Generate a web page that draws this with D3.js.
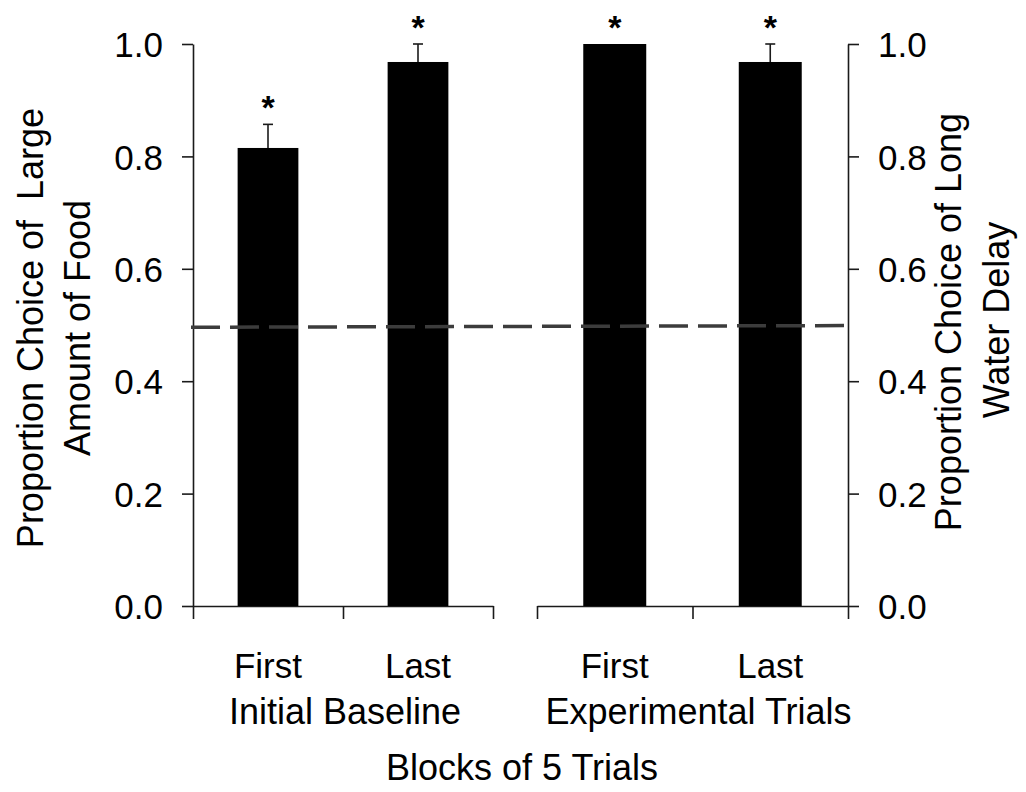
<!DOCTYPE html>
<html>
<head>
<meta charset="utf-8">
<script src="https://cdn.jsdelivr.net/npm/d3@7/dist/d3.min.js"></script>
<style>
    html, body { margin: 0; padding: 0; background: #fff; }
    svg { display: block; font-family: "Liberation Sans", Arial, sans-serif; }
    svg text { white-space: pre; }
</style>
</head>
<body>
<svg id="chart" width="1026" height="792"></svg>
<script>
// values
const groups = ["Initial Baseline", "Experimental Trials"];
const blocks = ["First", "Last"];
const foodMeans = [0.815, 0.968];      // left axis, initial baseline
const foodErrors = [0.042, 0.032];
const waterMeans = [1.0, 0.968];       // right axis, experimental trials
const waterErrors = [0.0, 0.032];
const starred = [[true, true], [true, true]];
const yTicks = [0.0, 0.2, 0.4, 0.6, 0.8, 1.0];
const chanceLine = [0.496, 0.499];     // dashed reference, slightly tilted in the original
const leftTitle = ["Proportion Choice of  Large", "Amount of Food"];
const rightTitle = ["Proportion Choice of Long", "Water Delay"];
const xTitle = "Blocks of 5 Trials";

const svg = d3.select("#chart");
const ink = "#1a1a1a";

const plot = { top: 44, bottom: 606, left: 193, right: 848 };
const panels = [
    { range: [193, 493], means: foodMeans, errors: foodErrors },
    { range: [537, 848], means: waterMeans, errors: waterErrors }
];
const barFrac = 0.405;

const y = d3.scaleLinear().domain([0, 1]).range([plot.bottom, plot.top]);

// y axes
const fmt = d3.format(".1f");
const leftAxis = svg.append("g")
    .attr("transform", `translate(${plot.left},0)`)
    .call(d3.axisLeft(y).tickValues(yTicks).tickFormat(fmt)
        .tickSizeInner(11).tickSizeOuter(0).tickPadding(19));
const rightAxis = svg.append("g")
    .attr("transform", `translate(${plot.right},0)`)
    .call(d3.axisRight(y).tickValues(yTicks).tickFormat(fmt)
        .tickSizeInner(11).tickSizeOuter(0).tickPadding(19));

[leftAxis, rightAxis].forEach(ax => {
    ax.selectAll("path, line").attr("stroke", ink).attr("stroke-width", 1.6);
    ax.selectAll("text")
        .attr("fill", "#000")
        .style("font-size", "35px")
        .attr("dy", "0.36em");
});

panels.forEach((p, gi) => {
    const x = d3.scaleBand().domain(blocks).range(p.range).padding(0);
    const bw = x.bandwidth() * barFrac;
    const cx = d => x(d) + x.bandwidth() / 2;

    // category axis with ticks at block boundaries
    const edges = d3.scaleLinear().domain([0, blocks.length]).range(p.range);
    svg.append("g")
        .attr("transform", `translate(0,${plot.bottom})`)
        .call(d3.axisBottom(edges).tickValues(d3.range(blocks.length + 1))
            .tickFormat("").tickSizeInner(13).tickSizeOuter(0))
        .call(g => g.selectAll("path, line").attr("stroke", ink).attr("stroke-width", 1.6));

    const g = svg.append("g");

    g.selectAll("rect")
        .data(blocks)
        .join("rect")
        .attr("x", d => cx(d) - bw / 2)
        .attr("y", (d, i) => y(p.means[i]))
        .attr("width", bw)
        .attr("height", (d, i) => y(0) - y(p.means[i]))
        .attr("fill", "#000");

    // upper error bars
    blocks.forEach((d, i) => {
        if (p.errors[i] <= 0) return;
        const top = y(p.means[i] + p.errors[i]);
        g.append("line")
            .attr("x1", cx(d)).attr("x2", cx(d))
            .attr("y1", y(p.means[i])).attr("y2", top)
            .attr("stroke", ink).attr("stroke-width", 1.6);
        g.append("line")
            .attr("x1", cx(d) - 5).attr("x2", cx(d) + 5)
            .attr("y1", top).attr("y2", top)
            .attr("stroke", ink).attr("stroke-width", 1.6);
    });

    // significance marks
    g.selectAll("text.star")
        .data(blocks)
        .join("text")
        .attr("class", "star")
        .filter((d, i) => starred[gi][i])
        .attr("x", cx)
        .attr("y", (d, i) => y(p.means[i] + p.errors[i]) - 5)
        .attr("text-anchor", "middle")
        .style("font-size", "34px")
        .style("font-weight", "bold")
        .text("*");

    // block labels and group label
    g.selectAll("text.block")
        .data(blocks)
        .join("text")
        .attr("class", "block")
        .attr("x", cx)
        .attr("y", 678)
        .attr("text-anchor", "middle")
        .style("font-size", "35px")
        .text(d => d);

    g.append("text")
        .attr("x", d3.mean(p.range) + (gi === 1 ? 6 : 2))
        .attr("y", 724)
        .attr("text-anchor", "middle")
        .style("font-size", "36px")
        .text(groups[gi]);
});

// dashed chance line, drawn across the whole plot on top of the bars
const chanceX = d3.scaleLinear().domain([0, 1]).range([plot.left - 2, plot.right + 3]);
svg.append("path")
    .datum(chanceLine)
    .attr("d", d3.line().x((d, i) => chanceX(i)).y(d => y(d)))
    .attr("fill", "none")
    .attr("stroke", "#3c3c3c")
    .attr("stroke-width", 3.5)
    .attr("stroke-dasharray", "29,10");

// axis titles
svg.append("text")
    .attr("x", 522)
    .attr("y", 780)
    .attr("text-anchor", "middle")
    .style("font-size", "36px")
    .text(xTitle);

const titleLines = (lines, baselines, cy) => {
    lines.forEach((t, i) => {
        svg.append("text")
            .attr("transform", `translate(${baselines[i]},${cy[i]}) rotate(-90)`)
            .attr("text-anchor", "middle")
            .style("font-size", "36px")
            .text(t);
    });
};
titleLines(leftTitle, [43, 90], [328, 328]);
titleLines(rightTitle, [961, 1009], [322, 320]);
</script>
</body>
</html>
